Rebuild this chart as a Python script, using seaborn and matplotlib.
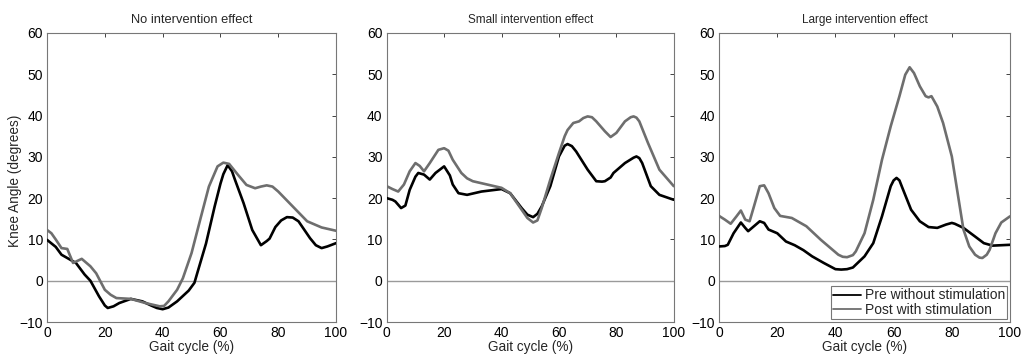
import numpy as np
import pandas as pd
import matplotlib
matplotlib.use("Agg")
import matplotlib.pyplot as plt
import seaborn as sns

# ---- data ----
titles = ["No intervention effect", "Small intervention effect", "Large intervention effect"]
series_names = ["Pre without stimulation", "Post with stimulation"]

p1_pre_x = [0, 3, 5, 10, 13, 15, 18, 20, 21, 23, 25, 29, 33, 36, 38, 40, 42, 45, 49, 51, 52, 55, 58, 60, 61, 62.5, 64, 65, 68, 71, 74, 76, 77, 79, 81, 83, 85, 87, 91, 93, 95, 97, 100]
p1_pre_y = [9.9, 8.2, 6.3, 4.3, 1.5, 0, -3.8, -6.0, -6.6, -6.2, -5.4, -4.4, -5.0, -6.0, -6.6, -6.9, -6.5, -5.0, -2.4, -0.5, 1.9, 9.0, 18.0, 23.5, 25.8, 28.0, 26.5, 24.5, 18.8, 12.3, 8.6, 9.6, 10.2, 13.0, 14.6, 15.4, 15.3, 14.4, 10.3, 8.6, 7.9, 8.3, 9.1]
p1_post_x = [0, 1.5, 3, 5, 7, 9, 10.5, 12, 15, 17, 20, 22, 24, 29, 34, 39, 40.5, 42, 45, 47, 50, 53, 56, 59, 61, 63, 66, 69, 72, 74, 76, 78, 80, 85, 90, 95, 100]
p1_post_y = [12.3, 11.5, 10.0, 7.9, 7.7, 4.3, 4.8, 5.3, 3.5, 1.8, -2.2, -3.4, -4.2, -4.4, -5.4, -6.2, -6.1, -5.0, -2.2, 0.6, 6.7, 14.8, 22.8, 27.7, 28.6, 28.3, 25.7, 23.2, 22.4, 22.8, 23.1, 22.8, 21.6, 18.0, 14.4, 12.9, 12.1]

p2_pre_x = [0, 2, 3, 5, 6.5, 8, 10, 11, 13, 15, 17, 20, 22, 23, 25, 28, 33, 40, 43, 47, 49, 51, 52.5, 54, 57, 60, 62, 63, 64.5, 66, 70, 73, 75, 76, 78, 79, 83, 86, 87, 88, 89, 92, 95, 100]
p2_pre_y = [20.0, 19.6, 19.2, 17.6, 18.2, 22.0, 25.2, 26.1, 25.7, 24.5, 26.1, 27.7, 25.5, 23.3, 21.2, 20.8, 21.6, 22.2, 21.2, 17.6, 16.0, 15.4, 16.2, 18.0, 22.9, 30.1, 32.7, 33.1, 32.6, 31.3, 26.9, 24.1, 24.0, 24.1, 25.0, 26.1, 28.5, 29.8, 30.1, 29.7, 28.5, 22.9, 20.8, 19.6]
p2_post_x = [0, 2, 4, 6, 8, 10, 11.5, 13, 15, 18, 20, 21.5, 23, 26, 28, 30, 35, 40, 43, 47, 49, 51, 52.5, 54, 57, 60, 62, 63, 65, 67, 68.5, 70, 71.5, 73, 76, 78, 80, 83, 85, 86, 87, 88, 91, 95, 100]
p2_post_y = [22.9, 22.2, 21.6, 23.3, 26.5, 28.5, 27.8, 26.5, 28.5, 31.7, 32.1, 31.5, 29.3, 26.1, 24.8, 24.1, 23.3, 22.5, 21.2, 17.2, 15.2, 14.1, 14.6, 17.6, 24.5, 30.9, 35.0, 36.5, 38.2, 38.6, 39.4, 39.8, 39.6, 38.6, 36.2, 34.8, 35.8, 38.6, 39.6, 39.8, 39.5, 38.6, 33.4, 26.9, 22.9]

p3_pre_x = [0, 2, 3, 5, 7.5, 9, 10, 12, 14, 15.5, 17, 20, 23, 26, 29, 32, 36, 40, 42, 44, 46, 50, 53, 56, 59, 60, 61, 62, 63, 66, 69, 72, 75, 78, 80, 81, 84, 88, 91, 94, 100]
p3_pre_y = [8.3, 8.4, 8.7, 11.5, 14.1, 12.8, 12.0, 13.2, 14.4, 14.0, 12.4, 11.5, 9.5, 8.6, 7.4, 5.9, 4.3, 2.8, 2.7, 2.8, 3.2, 5.9, 9.1, 15.6, 22.9, 24.3, 24.9, 24.3, 22.5, 17.2, 14.4, 13.0, 12.8, 13.6, 14.0, 13.8, 12.8, 10.7, 9.1, 8.5, 8.7]
p3_post_x = [0, 2, 4, 6, 7.5, 9, 10.5, 12, 14, 15.5, 17, 19, 21, 25, 30, 35, 39, 41, 42.5, 44, 46, 47, 50, 53, 56, 59, 62, 64, 65.5, 67, 69, 71, 72, 73, 75, 77, 80, 82, 84, 86, 88, 89.5, 90.5, 92, 93, 95, 97, 100]
p3_post_y = [15.7, 14.8, 13.8, 15.6, 17.0, 14.8, 14.4, 18.0, 22.9, 23.1, 21.2, 17.6, 15.7, 15.2, 13.2, 9.9, 7.5, 6.3, 5.8, 5.7, 6.2, 7.1, 11.5, 19.6, 29.3, 37.4, 44.7, 49.9, 51.7, 50.3, 47.1, 44.7, 44.4, 44.7, 42.2, 38.2, 30.1, 21.2, 12.4, 8.3, 6.3, 5.6, 5.5, 6.3, 7.5, 11.5, 14.1, 15.6]

x_ticks = [0, 20, 40, 60, 80, 100]
y_ticks = [-10, 0, 10, 20, 30, 40, 50, 60]

panels = [
    (p1_pre_x, p1_pre_y, p1_post_x, p1_post_y),
    (p2_pre_x, p2_pre_y, p2_post_x, p2_post_y),
    (p3_pre_x, p3_pre_y, p3_post_x, p3_post_y),
]

sns.set_theme(style="white")
plt.rcParams["font.family"] = ["Liberation Sans", "DejaVu Sans"]

fig = plt.figure(figsize=(10.34, 3.61), dpi=100)
lefts = [0.0455, 0.374, 0.6954]
widths = [0.2795, 0.2776, 0.2814]
bottom, height = 0.108, 0.8006
colors = {"Pre without stimulation": "#000000", "Post with stimulation": "#6e6e6e"}
title_sizes = [9.3, 8.5, 8.5]

for i, (pre_x, pre_y, post_x, post_y) in enumerate(panels):
    ax = fig.add_axes([lefts[i], bottom, widths[i], height])
    df = pd.concat([
        pd.DataFrame({"x": pre_x, "y": pre_y, "series": series_names[0]}),
        pd.DataFrame({"x": post_x, "y": post_y, "series": series_names[1]}),
    ])
    ax.axhline(0, color="#9a9a9a", lw=1.0, zorder=1)
    sns.lineplot(data=df, x="x", y="y", hue="series", palette=colors,
                 sort=False, estimator=None, lw=1.9, ax=ax, legend=(i == 2), zorder=3)
    ax.set_xlim(0, 100)
    ax.set_ylim(-10, 60)
    ax.set_xticks(x_ticks)
    ax.set_yticks(y_ticks)
    ax.tick_params(axis="both", direction="in", length=3, width=0.6, top=True, right=True,
                   labelsize=10, colors="#222222", labelcolor="black")
    ax.tick_params(axis="y", pad=3)
    ax.tick_params(axis="x", pad=3)
    for s in ax.spines.values():
        s.set_color("#777777")
        s.set_linewidth(0.8)
    ax.set_xlabel("Gait cycle (%)", fontsize=9.8, labelpad=0)
    if i == 0:
        ax.set_ylabel("Knee Angle (degrees)", fontsize=9.8, va="center")
        ax.yaxis.set_label_coords(-0.11, 0.49)
    else:
        ax.set_ylabel("")
    ax.set_title(titles[i], fontsize=title_sizes[i], pad=7)
    if i == 2:
        leg = ax.legend(loc="lower right", fontsize=10, frameon=True, fancybox=False,
                        borderpad=0.15, labelspacing=0.05, handlelength=2.0,
                        handletextpad=0.3, borderaxespad=0.2, title=None)
        leg.get_frame().set_edgecolor("#555555")
        leg.get_frame().set_linewidth(0.8)
        for h in leg.get_lines():
            h.set_linewidth(1.3)

fig.savefig("out.png", dpi=100)
